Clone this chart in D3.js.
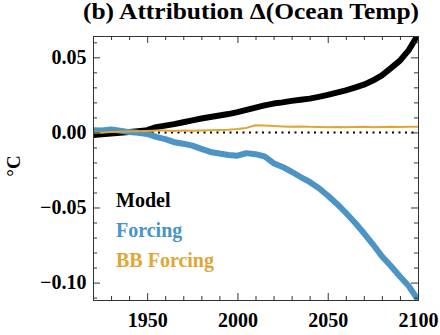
<!DOCTYPE html>
<html>
<head>
<meta charset="utf-8">
<script src="https://cdn.jsdelivr.net/npm/d3@7"></script>
<style>
  body { margin: 0; background: #fff; }
  text { font-family: "Liberation Serif", "Times New Roman", serif; font-weight: bold; }
</style>
</head>
<body>
<div id="chart"></div>
<script>
const years = [1920, 1925, 1930, 1935, 1940, 1945, 1950, 1955, 1960, 1965, 1970, 1975,
  1980, 1985, 1990, 1995, 2000, 2005, 2010, 2015, 2020, 2025, 2030, 2035, 2040, 2045,
  2050, 2055, 2060, 2065, 2070, 2075, 2080, 2085, 2090, 2095, 2100];

const model = [-0.0018, -0.0012, -0.0008, -0.0003, 0.0002, 0.0008, 0.0015, 0.0035, 0.0045,
  0.0055, 0.0068, 0.0080, 0.0093, 0.0103, 0.0113, 0.0122, 0.0135, 0.0150, 0.0165, 0.0180,
  0.0192, 0.0200, 0.0210, 0.0218, 0.0225, 0.0237, 0.0250, 0.0265, 0.0280, 0.0298, 0.0318,
  0.0345, 0.0380, 0.0428, 0.0478, 0.0550, 0.0650];

const forcing = [0.0015, 0.0013, 0.0020, 0.0012, 0.0002, -0.0003, -0.0010, -0.0030, -0.0045,
  -0.0065, -0.0075, -0.0088, -0.0110, -0.0130, -0.0140, -0.0150, -0.0155, -0.0138, -0.0145,
  -0.0160, -0.0205, -0.0230, -0.0262, -0.0297, -0.0330, -0.0370, -0.0420, -0.0475, -0.0535,
  -0.0600, -0.0670, -0.0745, -0.0825, -0.0890, -0.0960, -0.1025, -0.1115];

const bbForcing = [-0.0002, 0.0000, 0.0003, 0.0004, 0.0006, 0.0008, 0.0010, 0.0012, 0.0013,
  0.0010, 0.0012, 0.0011, 0.0013, 0.0014, 0.0016, 0.0018, 0.0022, 0.0030, 0.0048, 0.0046,
  0.0043, 0.0040, 0.0038, 0.0040, 0.0037, 0.0036, 0.0035, 0.0036, 0.0035, 0.0036, 0.0037,
  0.0035, 0.0036, 0.0037, 0.0036, 0.0037, 0.0037];

const xMajor = [1950, 2000, 2050, 2100];
const yMajor = [-0.10, -0.05, 0.00, 0.05];
const legendNames = ["Model", "Forcing", "BB Forcing"];

const width = 440;
const height = 335;
const margin = { top: 36, right: 22, bottom: 35, left: 93 };

const series = [
  { name: "Model", values: model, color: "#000000", width: 6 },
  { name: "Forcing", values: forcing, color: "#4b94c3", width: 6 },
  { name: "BB Forcing", values: bbForcing, color: "#e0a634", width: 2 }
];

const svg = d3.select("#chart").append("svg")
  .attr("width", width)
  .attr("height", height);

const x = d3.scaleLinear().domain([1920, 2100]).range([margin.left, width - margin.right]);
const y = d3.scaleLinear().domain([-0.1116, 0.0642]).range([height - margin.bottom, margin.top]);

svg.append("clipPath").attr("id", "clip")
  .append("rect")
  .attr("x", margin.left).attr("y", margin.top)
  .attr("width", width - margin.left - margin.right)
  .attr("height", height - margin.top - margin.bottom);

const plot = svg.append("g").attr("clip-path", "url(#clip)");

// zero reference
plot.append("line")
  .attr("x1", x(1920)).attr("x2", x(2100))
  .attr("y1", y(0)).attr("y2", y(0))
  .attr("stroke", "#000")
  .attr("stroke-width", 2)
  .attr("stroke-dasharray", "2 4.5");

const line = d3.line()
  .x((d, i) => x(years[i]))
  .y(d => y(d));

series.forEach(s => {
  plot.append("path")
    .datum(s.values)
    .attr("fill", "none")
    .attr("stroke", s.color)
    .attr("stroke-width", s.width)
    .attr("stroke-linejoin", "round")
    .attr("d", line);
});

// axes: ticks inward on all four sides
const xMinor = d3.range(1920, 2101, 10).filter(v => !xMajor.includes(v));
const yMinor = d3.range(-11, 7).map(v => v / 100).filter(v => !yMajor.some(m => Math.abs(m - v) < 1e-9));

function styleAxis(g) {
  g.select(".domain").attr("stroke", "#333");
  g.selectAll(".tick line").attr("stroke", "#333");
  g.selectAll("text").attr("fill", "#000").style("font-size", "20px");
}

svg.append("g")
  .attr("transform", `translate(0,${height - margin.bottom})`)
  .call(d3.axisBottom(x).tickValues(xMajor).tickSizeInner(-7).tickSizeOuter(0)
    .tickPadding(13).tickFormat(d3.format("d")))
  .call(styleAxis);
svg.append("g")
  .attr("transform", `translate(0,${height - margin.bottom})`)
  .call(d3.axisBottom(x).tickValues(xMinor).tickSize(-4).tickFormat(""))
  .call(styleAxis);

svg.append("g")
  .attr("transform", `translate(0,${margin.top})`)
  .call(d3.axisTop(x).tickValues(xMajor).tickSizeInner(-7).tickSizeOuter(0).tickFormat(""))
  .call(styleAxis);
svg.append("g")
  .attr("transform", `translate(0,${margin.top})`)
  .call(d3.axisTop(x).tickValues(xMinor).tickSize(-4).tickFormat(""))
  .call(styleAxis);

const fmtY = v => (v < 0 ? "\u2212" : "") + Math.abs(v).toFixed(2);
svg.append("g")
  .attr("transform", `translate(${margin.left},0)`)
  .call(d3.axisLeft(y).tickValues(yMajor).tickSizeInner(-7).tickSizeOuter(0)
    .tickPadding(6.5).tickFormat(fmtY))
  .call(styleAxis);
svg.append("g")
  .attr("transform", `translate(${margin.left},0)`)
  .call(d3.axisLeft(y).tickValues(yMinor).tickSize(-4).tickFormat(""))
  .call(styleAxis);

svg.append("g")
  .attr("transform", `translate(${width - margin.right},0)`)
  .call(d3.axisRight(y).tickValues(yMajor).tickSizeInner(-7).tickSizeOuter(0).tickFormat(""))
  .call(styleAxis);
svg.append("g")
  .attr("transform", `translate(${width - margin.right},0)`)
  .call(d3.axisRight(y).tickValues(yMinor).tickSize(-4).tickFormat(""))
  .call(styleAxis);

// title
svg.append("text")
  .attr("x", 251)
  .attr("y", 19)
  .attr("text-anchor", "middle")
  .attr("textLength", 336)
  .attr("lengthAdjust", "spacingAndGlyphs")
  .style("font-size", "23px")
  .text("(b) Attribution \u0394(Ocean Temp)");

// y label
svg.append("text")
  .attr("transform", "translate(20,166) rotate(-90)")
  .attr("text-anchor", "middle")
  .style("font-size", "19px")
  .text("\u00B0C");

// legend
svg.append("g").selectAll("text")
  .data(series)
  .join("text")
  .attr("x", 116)
  .attr("y", (d, i) => 207 + i * 30)
  .attr("fill", d => d.color)
  .style("font-size", "20px")
  .text((d, i) => legendNames[i]);
</script>
</body>
</html>
